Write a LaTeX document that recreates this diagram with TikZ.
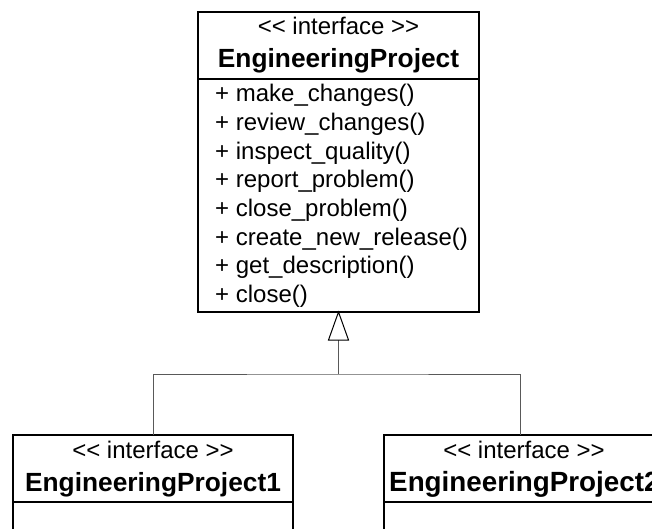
\documentclass[tikz,border=0pt]{standalone}
\usepackage{fontspec}
\setmainfont{Liberation Sans}
\begin{document}
\begin{tikzpicture}[x=1pt,y=-1pt,
  box/.style={draw=black,line width=1.8pt,anchor=north west,inner sep=0pt,outer sep=0pt},
  stereo/.style={anchor=base,inner sep=0pt,font=\fontsize{24}{28}\selectfont},
  title/.style={anchor=base,inner sep=0pt,font=\fontsize{26.3}{30}\selectfont\bfseries},
  method/.style={anchor=base west,inner sep=0pt,font=\fontsize{24}{28}\selectfont},
  conn/.style={draw=black!65,line width=1pt},
  tri/.style={draw=black,line width=1pt,fill=white,line join=miter}]
\useasboundingbox (0,0) rectangle (652,529);
\clip (0,0) rectangle (652,529);
% top interface
\node[box,minimum width=281,minimum height=67] (toph) at (198,12) {};
\node[box,minimum width=281,minimum height=233] (topm) at (198,79) {};
\node[stereo] (tops) at (338.5,35) {{<}{<} interface {>}{>}};
\node[title] (topt) at (338.5,68) {EngineeringProject};
\foreach \t [count=\i] in {make\_changes(),review\_changes(),inspect\_quality(),report\_problem(),close\_problem(),create\_new\_release(),get\_description(),close()}
  \node[method] (m\i) at (215,{102+28.6*(\i-1)}) {+ \t};
% left sub-interface
\node[box,minimum width=280,minimum height=67] (b1h) at (13,435) {};
\node[box,minimum width=280,minimum height=120] (b1m) at (13,502) {};
\node[stereo] (b1s) at (153,458) {{<}{<} interface {>}{>}};
\node[title] (b1t) at (153,491) {EngineeringProject1};
% right sub-interface
\node[box,minimum width=280,minimum height=67] (b2h) at (384,435) {};
\node[box,minimum width=280,minimum height=120] (b2m) at (384,502) {};
\node[stereo] (b2s) at (524,458) {{<}{<} interface {>}{>}};
\node[title,anchor=base west,font=\fontsize{27.8}{30}\selectfont\bfseries] (b2t) at (389,491) {EngineeringProject2};
% generalization
\coordinate (apex) at (topm.south);
\coordinate (base) at ([yshift=-28pt]apex);
\coordinate (join) at ([yshift=-62pt]apex);
\coordinate (b2in) at (520,435);
\draw[conn] (b1h.north) |- (join) -| (b2in);
\draw[conn] (join) -- (base);
\draw[tri] (apex) -- ([xshift=-10pt]base) -- ([xshift=10pt]base) -- cycle;
\end{tikzpicture}
\end{document}
